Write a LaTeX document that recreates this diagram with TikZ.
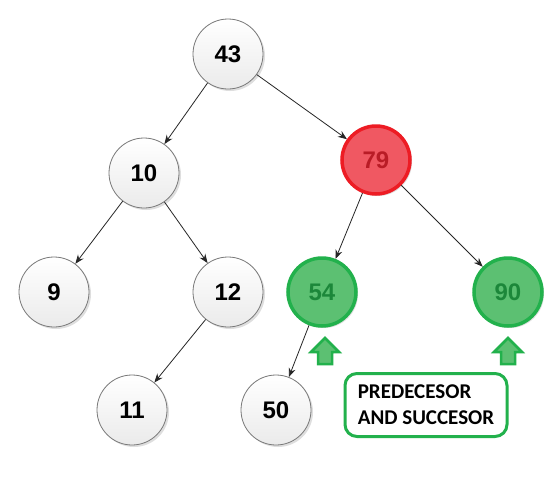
\documentclass[tikz,border=0pt]{standalone}
\usepackage{fontspec}
\setmainfont{Liberation Sans}
\newfontfamily\boxfont{Carlito}
\usetikzlibrary{arrows.meta,shadows}
\definecolor{gborder}{RGB}{34,177,76}
\definecolor{gfill}{RGB}{92,192,114}
\definecolor{gtext}{RGB}{28,135,58}
\definecolor{rborder}{RGB}{237,28,36}
\definecolor{rfill}{RGB}{240,88,98}
\definecolor{rtext}{RGB}{185,28,38}
\definecolor{nborder}{RGB}{120,120,120}
\tikzset{
  tnode/.style={circle, minimum size=70pt, inner sep=0pt, draw=nborder, line width=0.8pt,
    top color=white, bottom color=black!8, font=\bfseries\fontsize{24}{24}\selectfont,
    drop shadow={shadow xshift=2pt, shadow yshift=-2pt, fill=black!25}},
  gnode/.style={circle, minimum size=68pt, inner sep=0pt, draw=gborder, line width=3.5pt,
    fill=gfill, text=gtext, font=\bfseries\fontsize{24}{24}\selectfont,
    drop shadow={shadow xshift=2pt, shadow yshift=-2pt, fill=black!25}},
  rnode/.style={circle, minimum size=68pt, inner sep=0pt, draw=rborder, line width=3.5pt,
    fill=rfill, text=rtext, font=\bfseries\fontsize{24}{24}\selectfont,
    drop shadow={shadow xshift=2pt, shadow yshift=-2pt, fill=black!25}},
  edge/.style={draw=black!85, line width=0.8pt, -{Stealth[length=9pt,width=7pt]}},
  uparrow/.style={draw=gborder, line width=2.5pt, fill=gfill, line join=miter},
  labelbox/.style={draw=gborder, line width=3pt, rounded corners=12pt, minimum width=162pt,
    minimum height=63pt, align=left, inner xsep=10pt,
    font=\boxfont\bfseries\fontsize{21}{26}\selectfont}
}
\begin{document}
\begin{tikzpicture}[x=1pt,y=-1pt]
\useasboundingbox[fill=white] (0,0) rectangle (558,491);
\node[tnode] (n43) at (228,54) {43};
\node[tnode] (n10) at (144,173) {10};
\node[rnode] (n79) at (376,160) {79};
\node[tnode] (n9) at (54,292) {9};
\node[tnode] (n12) at (228,292) {12};
\node[gnode] (n54) at (322,292) {54};
\node[gnode] (n90) at (508,292) {90};
\node[tnode] (n11) at (132,410) {11};
\node[tnode] (n50) at (276,410) {50};
\draw[edge] (n43) -- (n10);
\draw[edge] (n43) -- (n79);
\draw[edge] (n10) -- (n9);
\draw[edge] (n10) -- (n12);
\draw[edge] (n79) -- (n54);
\draw[edge] (n79) -- (n90);
\draw[edge] (n12) -- (n11);
\draw[edge] (n54) -- (n50);
\foreach \cx in {325, 508}{
  \draw[uparrow] (\cx,338) -- (\cx+14,352) -- (\cx+7,352) -- (\cx+7,364) -- (\cx-7,364)
     -- (\cx-7,352) -- (\cx-14,352) -- cycle;
}
\node[labelbox] (lbl) at (426,405) {PREDECESOR\\AND SUCCESOR};
\end{tikzpicture}
\end{document}
